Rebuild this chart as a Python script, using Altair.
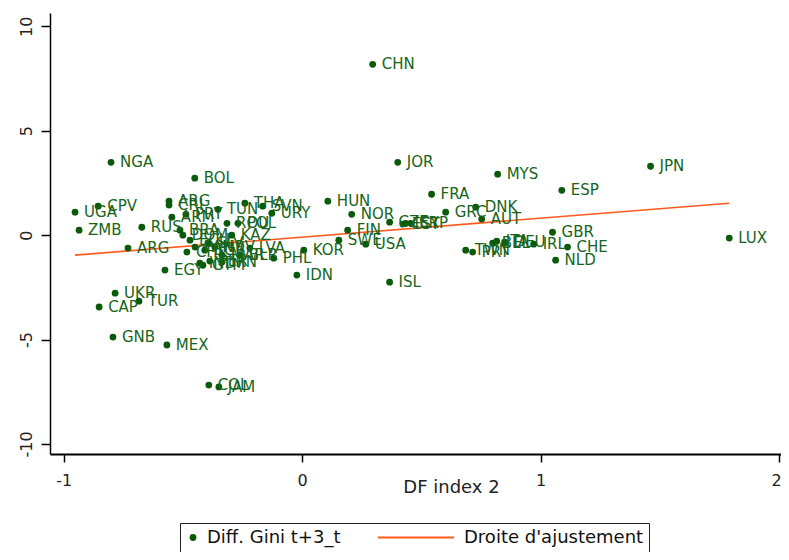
import altair as alt
import pandas as pd

# ---- data ----
codes = ["CHN", "NGA", "BOL", "JOR", "MYS", "JPN", "ESP", "FRA", "HUN", "NOR",
         "GRC", "DNK", "AUT", "UGA", "CPV", "ZMB", "RUS", "ARG", "ARG", "CRI",
         "ARM", "PRY", "TUN", "THA", "SVN", "URY", "ROU", "POL", "KAZ", "BRA",
         "DOM", "ECU", "CHL", "BGR", "HRV", "IND", "PER", "MAR", "SLV", "GTM",
         "PAN", "BLR", "IRN", "LVA", "PHL", "KOR", "IDN", "EGY", "UKR", "CAP",
         "TUR", "GNB", "MEX", "COL", "JAM", "FIN", "SWE", "USA", "CZE", "EST",
         "ISR", "CYP", "ISL", "BEL", "ITA", "DEU", "TWN", "PRT", "GBR", "IRL",
         "CHE", "NLD", "LUX"]
df_index = [0.296, -0.801, -0.450, 0.401, 0.820, 1.461, 1.089, 0.543, 0.108, 0.208,
            0.602, 0.728, 0.753, -0.952, -0.855, -0.935, -0.672, -0.730, -0.558, -0.558,
            -0.546, -0.487, -0.353, -0.240, -0.165, -0.127, -0.315, -0.269, -0.295, -0.512,
            -0.500, -0.470, -0.483, -0.408, -0.366, -0.429, -0.387, -0.336, -0.395, -0.416,
            -0.449, -0.261, -0.336, -0.219, -0.119, 0.007, -0.022, -0.575, -0.784, -0.851,
            -0.684, -0.793, -0.567, -0.391, -0.349, 0.191, 0.154, 0.267, 0.367, 0.422,
            0.434, 0.455, 0.367, 0.799, 0.816, 0.849, 0.686, 0.715, 1.050, 0.971,
            1.113, 1.063, 1.791]
diff_gini = [8.18, 3.49, 2.73, 3.49, 2.92, 3.30, 2.15, 1.96, 1.63, 1.00,
             1.10, 1.34, 0.77, 1.10, 1.39, 0.24, 0.38, -0.62, 1.63, 1.44,
             0.86, 1.00, 1.24, 1.53, 1.39, 1.05, 0.57, 0.57, 0.00, 0.24,
             0.00, -0.24, -0.81, -0.72, -0.57, -1.34, -1.24, -0.96, -0.38, -1.44,
             -0.57, -0.96, -1.29, -0.62, -1.10, -0.72, -1.91, -1.67, -2.78, -3.44,
             -3.16, -4.88, -5.26, -7.18, -7.27, 0.24, -0.24, -0.43, 0.62, 0.53,
             0.57, 0.57, -2.25, -0.38, -0.29, -0.33, -0.72, -0.81, 0.14, -0.43,
             -0.57, -1.20, -0.14]
fit_x = [-0.952, 1.791]
fit_y = [-0.957, 1.53]
series_names = ["Diff. Gini t+3_t", "Droite d'ajustement"]
x_ticks = [-1, 0, 1, 2]
y_ticks = [-10, -5, 0, 5, 10]

GREEN = "#0a5a0a"
ORANGE = "#ff5a1e"
FONT = "DejaVu Sans"

pts = pd.DataFrame({"x": df_index, "y": diff_gini, "lab": codes,
                    "series": series_names[0]})
fit = pd.DataFrame({"x": fit_x, "y": fit_y})

xscale = alt.Scale(domain=[-1.057, 2.008], nice=False, zero=False)
yscale = alt.Scale(domain=[-10.48, 10.64], nice=False, zero=False)

xaxis = alt.Axis(values=x_ticks, title="DF index 2", grid=False, tickSize=8,
                 format="d",
                 labelPadding=10, labelFont=FONT, labelFontSize=16, labelColor="#222",
                 labelExpr="replace(datum.label, '\u2212', '-')",
                 labelOffset=alt.ExprRef(expr="datum.value == 2 ? -3 : 0"),
                 labelBound=False, labelFlush=False,
                 titleFont=FONT, titleFontSize=18, titleFontWeight="normal",
                 titleColor="#222", titleX=401, titleY=33, titleAlign="center",
                 titleBaseline="middle", domainColor="#000", domainWidth=2,
                 tickColor="#000", tickWidth=1.5)
yaxis = alt.Axis(values=y_ticks, title=None, grid=False, tickSize=9,
                 format="d",
                 labelAngle=270, labelAlign="center", labelBaseline="alphabetic",
                 labelPadding=10, labelFont=FONT, labelFontSize=16, labelColor="#222",
                 labelExpr="replace(datum.label, '\u2212', '-')",
                 domainColor="#000", domainWidth=1.5, tickColor="#000", tickWidth=1.5)

first = "datum.value == 'Diff. Gini t+3_t'"
leg = alt.Legend(orient="none", legendX=130, legendY=510, direction="horizontal",
                 columns=2, columnPadding=36, clipHeight=19, padding=5,
                 strokeColor="#222", fillColor="white", cornerRadius=0,
                 labelFont=FONT, labelFontSize=18, labelColor="#111",
                 labelLimit=400,
                 labelOffset=alt.ExprRef(expr=first + " ? -25 : 9"),
                 symbolOffset=alt.ExprRef(expr=first + " ? -31 : 0"),
                 symbolStrokeWidth=1.8,
                 symbolStrokeColor=alt.ExprRef(
                     expr=first + " ? 'transparent' : '" + ORANGE + "'"))

base = alt.Chart(pts)

points = base.mark_point(filled=True, opacity=1).encode(
    x=alt.X("x:Q", scale=xscale, axis=xaxis),
    y=alt.Y("y:Q", scale=yscale, axis=yaxis),
    color=alt.Color("series:N", title=None,
                    scale=alt.Scale(domain=series_names, range=[GREEN, ORANGE]),
                    legend=leg),
    shape=alt.Shape("series:N", title=None,
                    scale=alt.Scale(domain=series_names, range=["circle", "stroke"]),
                    legend=leg),
    size=alt.Size("series:O", title=None,
                  scale=alt.Scale(domain=series_names, range=[46, 5776]),
                  legend=leg),
)

labels = base.mark_text(align="left", baseline="middle", dx=9, font=FONT,
                        fontSize=15, color="#16651a").encode(
    x="x:Q", y="y:Q", text="lab:N")

line = alt.Chart(fit).mark_line(color=ORANGE, strokeWidth=1.6).encode(
    x="x:Q", y="y:Q")

chart = alt.layer(line, points, labels).properties(
    width=731, height=441,
    autosize=alt.AutoSizeParams(type="none"),
    padding={"left": 42, "top": 5, "right": 0, "bottom": 98},
    background="white",
).configure_view(stroke=None)

chart.save("out.html", embed_options={"renderer": "svg", "actions": False})
